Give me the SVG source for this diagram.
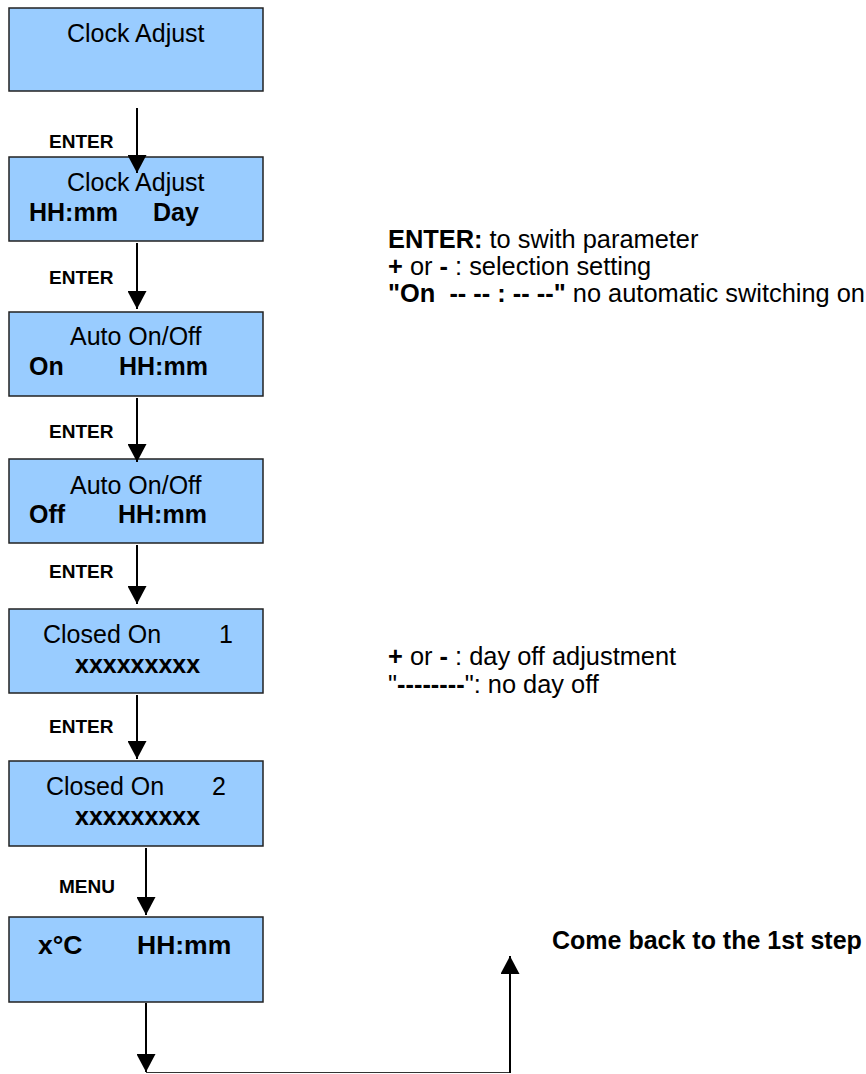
<svg xmlns="http://www.w3.org/2000/svg" width="866" height="1074" viewBox="0 0 866 1074">
<style>
.box{fill:#99CCFF;stroke:#222;stroke-width:1.5}
text{font-family:"Liberation Sans",Arial,sans-serif;fill:#000;white-space:pre}
.t{font-size:25px}
.n{font-size:25.4px}
.big{font-size:26.5px}
.b{font-weight:bold}
.lbl{font-size:19px;font-weight:bold}
.ln{stroke:#000;stroke-width:2;fill:none}
.thin{stroke:#333;stroke-width:1.2;fill:none}
</style>
<defs>
<marker id="ah" markerWidth="19" markerHeight="19" refX="18" refY="9.5" orient="auto" markerUnits="userSpaceOnUse" viewBox="0 0 19 19">
<path d="M0,0 L18,9.5 L0,19 z" fill="#000"/>
</marker>
</defs>
<rect width="866" height="1074" fill="#fff"/>
<g id="n1"><rect class="box" x="9" y="8" width="254" height="83"/><text class="t" x="67" y="42">Clock Adjust</text></g>
<g id="n2"><rect class="box" x="9" y="157" width="254" height="84"/><text class="t" x="67" y="191">Clock Adjust</text><text class="t b" x="29" y="221">HH:mm</text><text class="t b" x="153" y="221">Day</text></g>
<g id="n3"><rect class="box" x="9" y="312" width="254" height="84"/><text class="t" x="70" y="345">Auto On/Off</text><text class="t b" x="29" y="375">On</text><text class="t b" x="119" y="375">HH:mm</text></g>
<g id="n4"><rect class="box" x="9" y="459" width="254" height="84"/><text class="t" x="70" y="494">Auto On/Off</text><text class="t b" x="29" y="523">Off</text><text class="t b" x="118" y="523">HH:mm</text></g>
<g id="n5"><rect class="box" x="9" y="609" width="254" height="84"/><text class="t" x="43" y="643">Closed On</text><text class="t" x="219" y="643">1</text><text class="t b" x="75" y="673">xxxxxxxxx</text></g>
<g id="n6"><rect class="box" x="9" y="761" width="254" height="85"/><text class="t" x="46" y="795">Closed On</text><text class="t" x="212" y="795">2</text><text class="t b" x="75" y="825">xxxxxxxxx</text></g>
<g id="n7"><rect class="box" x="9" y="917" width="254" height="85"/><text class="big b" x="38" y="954">x°C</text><text class="big b" x="137" y="954">HH:mm</text></g>
<g id="connectors">
<line class="ln" x1="137" y1="108" x2="137" y2="173" marker-end="url(#ah)"/>
<line class="ln" x1="137" y1="243" x2="137" y2="309" marker-end="url(#ah)"/>
<line class="ln" x1="137" y1="398" x2="137" y2="462" marker-end="url(#ah)"/>
<line class="ln" x1="137" y1="545" x2="137" y2="604" marker-end="url(#ah)"/>
<line class="ln" x1="137" y1="695" x2="137" y2="759" marker-end="url(#ah)"/>
<line class="ln" x1="146" y1="848" x2="146" y2="915" marker-end="url(#ah)"/>
<line class="ln" x1="146" y1="1003" x2="146" y2="1072" marker-end="url(#ah)"/>
<line class="thin" x1="146" y1="1072.5" x2="511" y2="1072.5"/>
<line class="ln" x1="510" y1="1073" x2="510" y2="956" marker-end="url(#ah)"/>
</g>
<g id="labels">
<text class="lbl" x="49" y="148">ENTER</text>
<text class="lbl" x="49" y="284">ENTER</text>
<text class="lbl" x="49" y="438">ENTER</text>
<text class="lbl" x="49" y="578">ENTER</text>
<text class="lbl" x="49" y="733">ENTER</text>
<text class="lbl" x="59" y="893">MENU</text>
</g>
<g id="notes">
<text class="n" x="388" y="248"><tspan class="b">ENTER:</tspan> to swith parameter</text>
<text class="n" x="388" y="275"><tspan class="b">+</tspan> or <tspan class="b">-</tspan> : selection setting</text>
<text class="n" x="388" y="302"><tspan class="b">"On  -- -- : -- --"</tspan> no automatic switching on</text>
<text class="n" x="388" y="665"><tspan class="b">+</tspan> or <tspan class="b">-</tspan> : day off adjustment</text>
<text class="n" x="388" y="693">"<tspan class="b">--------</tspan>": no day off</text>
<text class="t b" x="552" y="949">Come back to the 1st step</text>
</g>
</svg>
